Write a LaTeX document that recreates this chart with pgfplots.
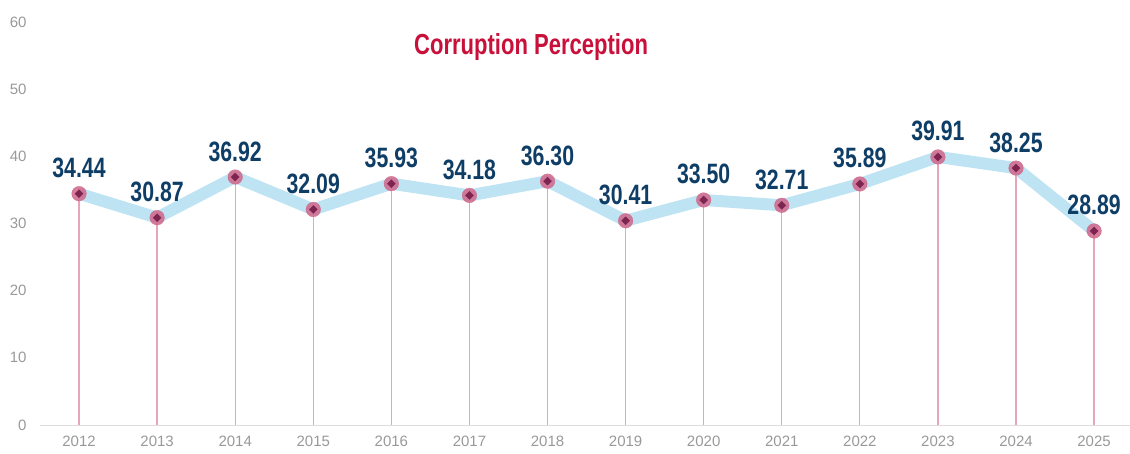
\documentclass[border=0pt]{standalone}
\usepackage{pgfplots}
\pgfplotsset{compat=1.18}
\usepackage{pgfplotstable}
\usepackage{fontspec}
\setmainfont{Liberation Sans}
\newfontfamily\condfont[FakeStretch=0.76]{Liberation Sans}
\definecolor{tickgray}{HTML}{999999}
\definecolor{axisgray}{HTML}{DDDDDD}
\definecolor{linelight}{HTML}{BEE3F3}
\definecolor{markpink}{HTML}{D0668A}
\definecolor{markdark}{HTML}{7E2450}
\definecolor{droppink}{HTML}{DE7F9B}
\definecolor{labelblue}{HTML}{0E3D66}
\definecolor{titlered}{HTML}{C8103A}
\pgfplotstableread{
x y label
2012 34.44 34.44
2013 30.87 30.87
2014 36.92 36.92
2015 32.09 32.09
2016 35.93 35.93
2017 34.18 34.18
2018 36.30 36.30
2019 30.41 30.41
2020 33.50 33.50
2021 32.71 32.71
2022 35.89 35.89
2023 39.91 39.91
2024 38.25 38.25
2025 28.89 28.89
}\datatable
\begin{document}
\begin{tikzpicture}
\useasboundingbox (0,0) rectangle (1130pt,453pt);
\begin{axis}[
  at={(40pt,28pt)}, anchor=south west,
  scale only axis, width=1090pt, height=403pt,
  xmin=2011.5, xmax=2025.46, ymin=0, ymax=60,
  xtick={2012,2013,...,2025}, ytick={0,10,...,60},
  axis x line=bottom, axis y line=left,
  x axis line style={-, draw=axisgray, line width=1pt},
  y axis line style={draw=none},
  major tick length=0pt,
  /pgf/number format/1000 sep={},
  /pgf/number format/assume math mode=true,
  tick label style={font=\fontsize{15}{17}\selectfont, text=tickgray},
  xticklabel style={anchor=north, yshift=-7pt},
  yticklabel style={anchor=east, xshift=-10pt},
  ymajorgrids=false, xmajorgrids=false,
  clip=false,
]
\addplot[ycomb, draw=droppink, draw opacity=0.7, line width=1.3pt, mark=none] table[x=x,y=y] {\datatable};
\addplot[draw=linelight, line width=12pt, line join=round, mark=none] table[x=x,y=y] {\datatable};
\addplot[only marks, draw=markpink, fill=markpink, mark=*, mark size=7.3pt, mark options={draw=markpink, fill=markpink, opacity=0.85}] table[x=x,y=y] {\datatable};
\addplot[only marks, draw=markdark, fill=markdark, mark=square*, mark size=2.8pt, mark options={draw=markdark, fill=markdark, rotate=45},
  point meta=explicit symbolic,
  nodes near coords,
  every node near coord/.append style={anchor=base, yshift=16pt, inner sep=0pt, rotate=0,
    font=\condfont\bfseries\fontsize{28}{30}\selectfont, text=labelblue}
] table[x=x,y=y,meta=label] {\datatable};
\node[anchor=base, font=\condfont\bfseries\fontsize{29}{31}\selectfont, text=titlered] at (axis cs:2017.79,55.2) {Corruption Perception};
\end{axis}
\end{tikzpicture}
\end{document}
